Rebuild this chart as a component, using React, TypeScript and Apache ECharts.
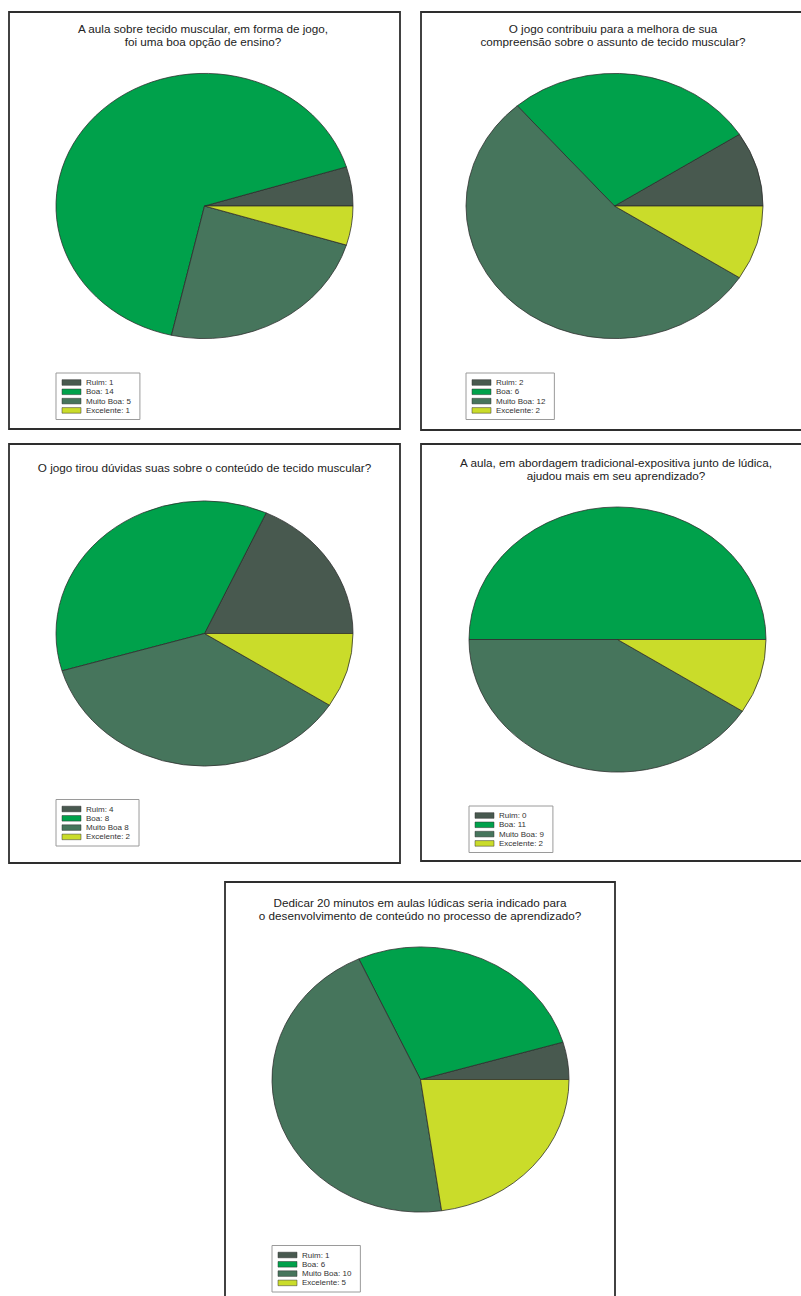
import React, { useEffect, useRef } from "react";
import * as echarts from "echarts";

// ---------- data ----------
const categories = ["Ruim", "Boa", "Muito Boa", "Excelente"];
const sliceColors = ["#48594f", "#00a14b", "#46755c", "#cadc2a"];

const q1Values = [1, 14, 5, 1];
const q2Values = [2, 6, 12, 2];
const q3Values = [4, 8, 8, 2];
const q4Values = [0, 11, 9, 2];
const q5Values = [1, 6, 10, 5];

const q1Title = "A aula sobre tecido muscular, em forma de jogo,\nfoi uma boa opção de ensino?";
const q2Title = "O jogo contribuiu para a melhora de sua\ncompreensão sobre o assunto de tecido muscular?";
const q3Title = "O jogo tirou dúvidas suas sobre o conteúdo de tecido muscular?";
const q4Title = "A aula, em abordagem tradicional-expositiva junto de lúdica,\najudou mais em seu aprendizado?";
const q5Title = "Dedicar 20 minutos em aulas lúdicas seria indicado para\no desenvolvimento de conteúdo no processo de aprendizado?";

const defaultSeparators = [": ", ": ", ": ", ": "];
const q3Separators = [": ", ": ", " ", ": "];

// ---------- layout (not data) ----------
const W = 801;
const H = 1296;
const PIE_R = 148.5;
const K = 132.6 / 148.5; // vertical squash of the pies

type Panel = {
  values: number[];
  title: string;
  seps: string[];
  frame: [number, number, number, number];
  cx: number;
  cy: number;
  titleX: number;
  titleTop: number;
  legendTop: number;
};

const panels: Panel[] = [
  { values: q1Values, title: q1Title, seps: defaultSeparators, frame: [9, 12, 391, 417], cx: 204.5, cy: 206, titleX: 203, titleTop: 22.8, legendTop: 373 },
  { values: q2Values, title: q2Title, seps: defaultSeparators, frame: [421, 12, 420, 418], cx: 614.5, cy: 206, titleX: 613, titleTop: 22.8, legendTop: 373 },
  { values: q3Values, title: q3Title, seps: q3Separators, frame: [9, 444, 391, 419], cx: 204.5, cy: 633.5, titleX: 204.5, titleTop: 461.5, legendTop: 799.5 },
  { values: q4Values, title: q4Title, seps: defaultSeparators, frame: [421, 444, 420, 417], cx: 617.5, cy: 639.5, titleX: 616, titleTop: 456.8, legendTop: 806 },
  { values: q5Values, title: q5Title, seps: defaultSeparators, frame: [225, 882, 390, 500], cx: 420.5, cy: 1079.5, titleX: 420, titleTop: 896.8, legendTop: 1245.5 },
];

const FONT = '"Liberation Sans", Arial, Helvetica, sans-serif';

function measure(text: string, size: number): number {
  const c = document.createElement("canvas").getContext("2d");
  if (!c) return text.length * size * 0.5;
  c.font = `${size}px ${FONT}`;
  return c.measureText(text).width;
}

export default function App() {
  const pieRef = useRef<HTMLDivElement>(null);
  const textRef = useRef<HTMLDivElement>(null);

  useEffect(() => {
    if (!pieRef.current || !textRef.current) return;
    const pieChart = echarts.init(pieRef.current, undefined, { renderer: "svg" });
    const textChart = echarts.init(textRef.current, undefined, { renderer: "svg" });

    pieChart.setOption({
      animation: false,
      series: panels.map((p) => ({
        type: "pie",
        silent: true,
        center: [p.cx, p.cy / K],
        radius: PIE_R,
        startAngle: 0,
        clockwise: false,
        label: { show: false },
        labelLine: { show: false },
        emphasis: { disabled: true },
        itemStyle: { borderColor: "#2b2b2b", borderWidth: 0.8 },
        data: categories.map((c, i) => ({
          name: c,
          value: p.values[i],
          itemStyle: { color: sliceColors[i] },
        })),
      })),
    });

    const elements: any[] = [];
    panels.forEach((p) => {
      const [fx, fy, fw, fh] = p.frame;
      elements.push({
        type: "rect",
        silent: true,
        shape: { x: fx, y: fy, width: fw, height: fh },
        style: { fill: "none", stroke: "#2e2e2e", lineWidth: 1.8 },
      });
      elements.push({
        type: "text",
        silent: true,
        x: p.titleX,
        y: p.titleTop,
        style: {
          text: p.title,
          textAlign: "center",
          textVerticalAlign: "top",
          fontSize: 11.7,
          fontFamily: FONT,
          lineHeight: 12.3,
          fill: "#222",
        },
      });
      const labels = categories.map((c, i) => `${c}${p.seps[i]}${p.values[i]}`);
      const textW = Math.max(...labels.map((l) => measure(l, 8)));
      const lx = p.cx - PIE_R;
      const ly = p.legendTop;
      const boxW = 30 + textW + 9;
      const boxH = 46.5;
      elements.push({
        type: "rect",
        silent: true,
        shape: { x: lx, y: ly, width: boxW, height: boxH },
        style: { fill: "#fff", stroke: "#9a9a9a", lineWidth: 1 },
      });
      labels.forEach((l, i) => {
        const ry = ly + 9.5 + i * 9.3;
        elements.push({
          type: "rect",
          silent: true,
          shape: { x: lx + 6, y: ry - 2.8, width: 19, height: 5.6 },
          style: { fill: sliceColors[i], stroke: "#333", lineWidth: 0.5 },
        });
        elements.push({
          type: "text",
          silent: true,
          x: lx + 30,
          y: ry,
          style: {
            text: l,
            textAlign: "left",
            textVerticalAlign: "middle",
            fontSize: 8,
            fontFamily: FONT,
            fill: "#333",
          },
        });
      });
    });

    textChart.setOption({
      animation: false,
      graphic: { elements },
    });

    return () => {
      pieChart.dispose();
      textChart.dispose();
    };
  }, []);

  return (
    <div style={{ position: "absolute", left: 0, top: 0, width: W, height: H, overflow: "hidden", background: "#fff" }}>
      <div
        ref={pieRef}
        style={{
          position: "absolute",
          left: 0,
          top: 0,
          width: W,
          height: H / K,
          transform: `scaleY(${K})`,
          transformOrigin: "0 0",
        }}
      />
      <div
        ref={textRef}
        style={{ position: "absolute", left: 0, top: 0, width: W, height: H, pointerEvents: "none" }}
      />
    </div>
  );
}
